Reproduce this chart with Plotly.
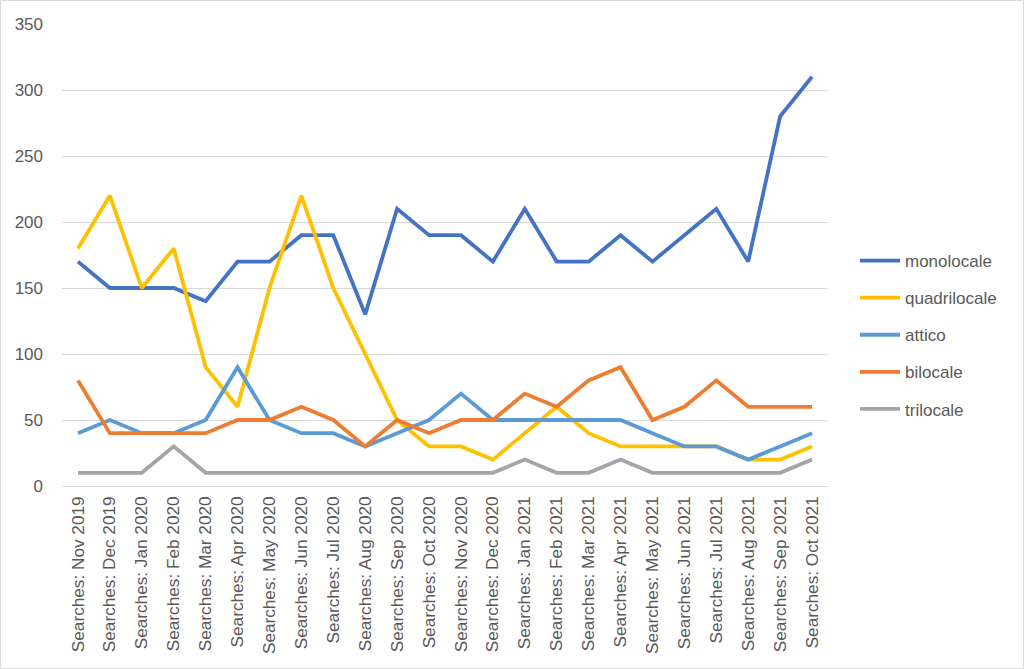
import plotly.graph_objects as go

months = ["Nov 2019", "Dec 2019", "Jan 2020", "Feb 2020", "Mar 2020", "Apr 2020", "May 2020",
          "Jun 2020", "Jul 2020", "Aug 2020", "Sep 2020", "Oct 2020", "Nov 2020", "Dec 2020",
          "Jan 2021", "Feb 2021", "Mar 2021", "Apr 2021", "May 2021", "Jun 2021", "Jul 2021",
          "Aug 2021", "Sep 2021", "Oct 2021"]
categories = ["Searches: " + m for m in months]

monolocale = [170, 150, 150, 150, 140, 170, 170, 190, 190, 130, 210, 190, 190, 170, 210, 170,
              170, 190, 170, 190, 210, 170, 280, 310]
quadrilocale = [180, 220, 150, 180, 90, 60, 150, 220, 150, 100, 50, 30, 30, 20, 40, 60,
                40, 30, 30, 30, 30, 20, 20, 30]
attico = [40, 50, 40, 40, 50, 90, 50, 40, 40, 30, 40, 50, 70, 50, 50, 50,
          50, 50, 40, 30, 30, 20, 30, 40]
bilocale = [80, 40, 40, 40, 40, 50, 50, 60, 50, 30, 50, 40, 50, 50, 70, 60,
            80, 90, 50, 60, 80, 60, 60, 60]
trilocale = [10, 10, 10, 30, 10, 10, 10, 10, 10, 10, 10, 10, 10, 10, 20, 10,
             10, 20, 10, 10, 10, 10, 10, 20]

series = [
    ("monolocale", monolocale, "#4472C4"),
    ("quadrilocale", quadrilocale, "#FFC000"),
    ("attico", attico, "#5B9BD5"),
    ("bilocale", bilocale, "#ED7D31"),
    ("trilocale", trilocale, "#A5A5A5"),
]

fig = go.Figure()
for name, vals, color in series:
    fig.add_trace(go.Scatter(
        x=categories, y=vals, name=name, mode="lines",
        line=dict(color=color, width=3.8),
        legendgroup=name,
    ))

W, H = 1024, 669
L, R, T, B = 62, 196, 24, 183
pw = W - L - R
ph = H - T - B

font = "Liberation Sans, Arial, sans-serif"
fig.update_layout(
    width=W, height=H,
    margin=dict(l=L, r=R, t=T, b=B, pad=0),
    paper_bgcolor="white", plot_bgcolor="white",
    font=dict(family=font, color="#595959", size=15),
    showlegend=True,
    legend=dict(
        x=(855 - L) / pw, y=(H - 243 - B) / ph, xanchor="left", yanchor="top",
        font=dict(size=17, color="#595959", family=font),
        tracegroupgap=12, itemwidth=40,
        bgcolor="rgba(0,0,0,0)",
    ),
    xaxis=dict(
        type="category", range=[-0.5, len(categories) - 0.5],
        tickangle=-90, showgrid=False, zeroline=False,
        showline=False, ticks="", tickfont=dict(size=17.2, color="#595959"),
        ticklabelstandoff=6,
    ),
    yaxis=dict(
        range=[0, 350], dtick=50, showgrid=True, gridcolor="#D9D9D9", gridwidth=1,
        zeroline=True, zerolinecolor="#D9D9D9", zerolinewidth=1, showline=False,
        ticks="", tickfont=dict(size=17, color="#595959"), ticklabelstandoff=18,
    ),
    shapes=[dict(
        type="rect", xref="paper", yref="paper",
        x0=(0.5 - L) / pw, x1=(W - 0.5 - L) / pw,
        y0=-(B - 0.5) / ph,
        y1=(H - 0.5 - B) / ph,
        line=dict(color="#D9D9D9", width=1), layer="below",
    )],
)

fig.write_html("out.html")
